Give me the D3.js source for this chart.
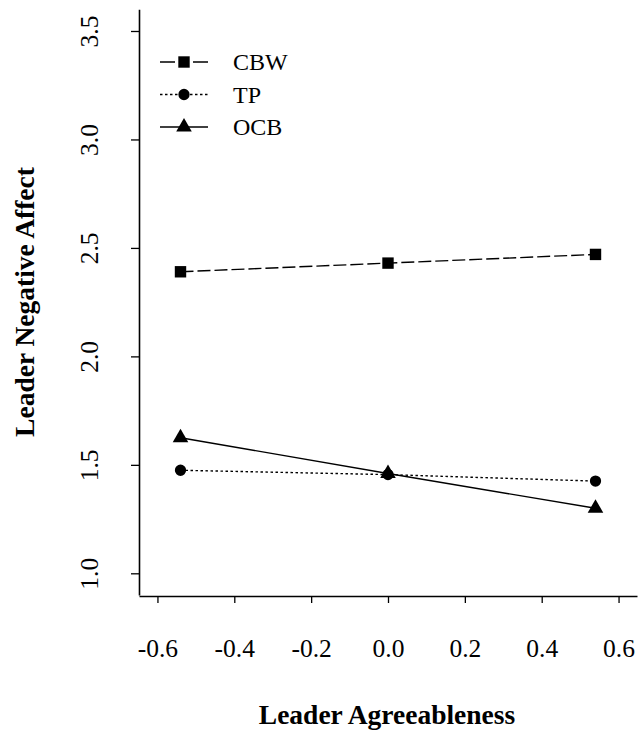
<!DOCTYPE html>
<html>
<head>
<meta charset="utf-8">
<script src="https://cdn.jsdelivr.net/npm/d3@7"></script>
<style>
  body { margin: 0; background: #fff; }
  svg { display: block; font-family: "Liberation Serif", "DejaVu Serif", serif; }
</style>
</head>
<body>
<div id="chart"></div>
<script>
// values
var agreeLevels = [-0.54, 0.0, 0.54];
var cbwValues = [2.39, 2.43, 2.47];
var tpValues = [1.475, 1.455, 1.425];
var ocbValues = [1.625, 1.46, 1.30];
var seriesNames = ["CBW", "TP", "OCB"];
var xTicks = [-0.6, -0.4, -0.2, 0.0, 0.2, 0.4, 0.6];
var yTicks = [1.0, 1.5, 2.0, 2.5, 3.0, 3.5];

var width = 638, height = 731;

var svg = d3.select("#chart").append("svg")
    .attr("width", width)
    .attr("height", height);

// R style: limits padded by 4%
var x = d3.scaleLinear().domain([-0.648, 0.648]).range([139, 637]);
var y = d3.scaleLinear().domain([0.9, 3.6]).range([595, 9.3]);

var fmt = function(d) { return d.toFixed(1); };

// axes
var xAxis = svg.append("g")
    .attr("transform", "translate(0,596)")
    .call(d3.axisBottom(x).tickValues(xTicks).tickFormat(fmt).tickSize(7).tickSizeOuter(0).tickPadding(36));

var yAxis = svg.append("g")
    .attr("transform", "translate(139,0)")
    .call(d3.axisLeft(y).tickValues(yTicks).tickFormat(fmt).tickSize(8).tickSizeOuter(0));

[xAxis, yAxis].forEach(function(g) {
  g.select(".domain").attr("stroke", "#000").attr("stroke-width", 1.6);
  g.selectAll(".tick line").attr("stroke", "#000").attr("stroke-width", 1.3);
  g.selectAll("text")
      .attr("fill", "#000")
      .style("font-family", "'Liberation Serif', serif")
      .style("font-size", "25.5px");
});

yAxis.selectAll(".tick text")
    .attr("x", 0)
    .attr("dy", 0)
    .attr("transform", "translate(-50,0) rotate(-90)")
    .attr("text-anchor", "middle")
    .attr("dominant-baseline", "central");

// axis titles
svg.append("text")
    .attr("x", 387)
    .attr("y", 724)
    .attr("text-anchor", "middle")
    .style("font-weight", "bold")
    .style("font-size", "27.5px")
    .text("Leader Agreeableness");

svg.append("text")
    .attr("transform", "translate(34,302) rotate(-90)")
    .attr("text-anchor", "middle")
    .style("font-weight", "bold")
    .style("font-size", "27.5px")
    .text("Leader Negative Affect");

// series
var series = [
  { name: seriesNames[0], values: cbwValues, dash: "13,4", legendDash: "15,18,15", shape: d3.symbolSquare, size: 130 },
  { name: seriesNames[1], values: tpValues, dash: "2.5,2.5", legendDash: "2.5,2.5", shape: d3.symbolCircle, size: 100 },
  { name: seriesNames[2], values: ocbValues, dash: null, legendDash: null, shape: d3.symbolTriangle, size: 105 }
];

var line = d3.line()
    .x(function(d) { return x(d[0]); })
    .y(function(d) { return y(d[1]); });

series.forEach(function(s) {
  var pts = agreeLevels.map(function(a, i) { return [a, s.values[i]]; });
  svg.append("path")
      .attr("d", line(pts))
      .attr("fill", "none")
      .attr("stroke", "#000")
      .attr("stroke-width", 1.4)
      .attr("stroke-dasharray", s.dash);
  svg.selectAll(null)
      .data(pts)
    .enter().append("path")
      .attr("transform", function(d) { return "translate(" + x(d[0]) + "," + y(d[1]) + ")"; })
      .attr("d", d3.symbol().type(s.shape).size(s.size))
      .attr("fill", "#000");
});

// legend
var legend = svg.append("g");
series.forEach(function(s, i) {
  var ly = 62 + i * 32.5;
  legend.append("line")
      .attr("x1", 160).attr("x2", 208)
      .attr("y1", ly).attr("y2", ly)
      .attr("stroke", "#000")
      .attr("stroke-width", 1.4)
      .attr("stroke-dasharray", s.legendDash);
  legend.append("path")
      .attr("transform", "translate(184," + ly + ")")
      .attr("d", d3.symbol().type(s.shape).size(s.size))
      .attr("fill", "#000");
  legend.append("text")
      .attr("x", 233)
      .attr("y", ly)
      .attr("dy", "0.35em")
      .style("font-size", "24px")
      .text(s.name);
});
</script>
</body>
</html>
